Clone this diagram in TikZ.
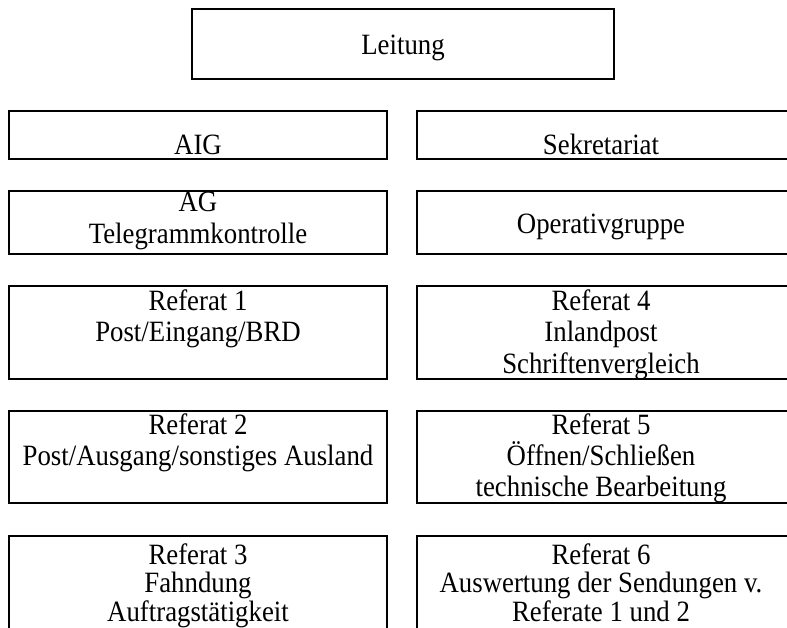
\documentclass[tikz,border=0pt]{standalone}
\usepackage{fontspec}
\usepackage{graphicx}
\setmainfont{Liberation Serif}
\newcommand{\fs}{\fontsize{26.8}{32}\selectfont}
\newcommand{\tall}[1]{\scalebox{1}[1.1]{#1}}
\tikzset{
  box/.style={draw, line width=2pt, rectangle, inner sep=0pt, minimum width=378pt},
  lbl/.style={font=\fs, anchor=base, inner sep=0pt},
}
\begin{document}
\begin{tikzpicture}[x=1pt,y=-1pt]
\clip (0,0) rectangle (787,628);
\useasboundingbox (0,0) rectangle (787,628);
% boxes
\node[box, line width=2.6pt, minimum width=422pt, minimum height=70pt] (lead) at (403,44) {};
\node[box, minimum height=48pt] (aig) at (198,135) {};
\node[box, minimum height=48pt, minimum width=372pt] (sek) at (603,135) {};
\node[box, minimum height=63pt] (ag) at (198,222.5) {};
\node[box, minimum height=63pt, minimum width=372pt] (op) at (603,222.5) {};
\node[box, minimum height=93pt] (r1) at (198,332.5) {};
\node[box, minimum height=93pt, minimum width=372pt] (r4) at (603,332.5) {};
\node[box, minimum height=92pt] (r2) at (198,457) {};
\node[box, minimum height=92pt, minimum width=372pt] (r5) at (603,457) {};
\node[box, minimum height=96pt] (r3) at (198,584) {};
\node[box, minimum height=96pt, minimum width=372pt] (r6) at (603,584) {};
% texts
\node[lbl] (tlead) at (403,55) {\tall{Leitung}};
\node[lbl] (taig) at (198,155) {\tall{AIG}};
\node[lbl] (tsek) at (601,155) {\tall{Sekretariat}};
\node[lbl] (tag1) at (198,212) {\tall{AG}};
\node[lbl] (tag2) at (198,244) {\tall{Telegrammkontrolle}};
\node[lbl] (top) at (601,234) {\tall{Operativgruppe}};
\node[lbl] (tr1a) at (198,310) {\tall{Referat 1}};
\node[lbl] (tr1b) at (198,341.5) {\tall{Post/Eingang/BRD}};
\node[lbl] (tr4a) at (601,310) {\tall{Referat 4}};
\node[lbl] (tr4b) at (601,341.5) {\tall{Inlandpost}};
\node[lbl] (tr4c) at (601,373) {\tall{Schriftenvergleich}};
\node[lbl] (tr2a) at (198,434) {\tall{Referat 2}};
\node[lbl] (tr2b) at (198,465) {\tall{Post/Ausgang/sonstiges Ausland}};
\node[lbl] (tr5a) at (601,434) {\tall{Referat 5}};
\node[lbl] (tr5b) at (601,465) {\tall{Öffnen/Schließen}};
\node[lbl] (tr5c) at (601,496) {\tall{technische Bearbeitung}};
\node[lbl] (tr3a) at (198,564) {\tall{Referat 3}};
\node[lbl] (tr3b) at (198,592.5) {\tall{Fahndung}};
\node[lbl] (tr3c) at (198,621) {\tall{Auftragstätigkeit}};
\node[lbl] (tr6a) at (601,564) {\tall{Referat 6}};
\node[lbl] (tr6b) at (601,592.5) {\tall{Auswertung der Sendungen v.}};
\node[lbl] (tr6c) at (601,621) {\tall{Referate 1 und 2}};
\end{tikzpicture}
\end{document}
